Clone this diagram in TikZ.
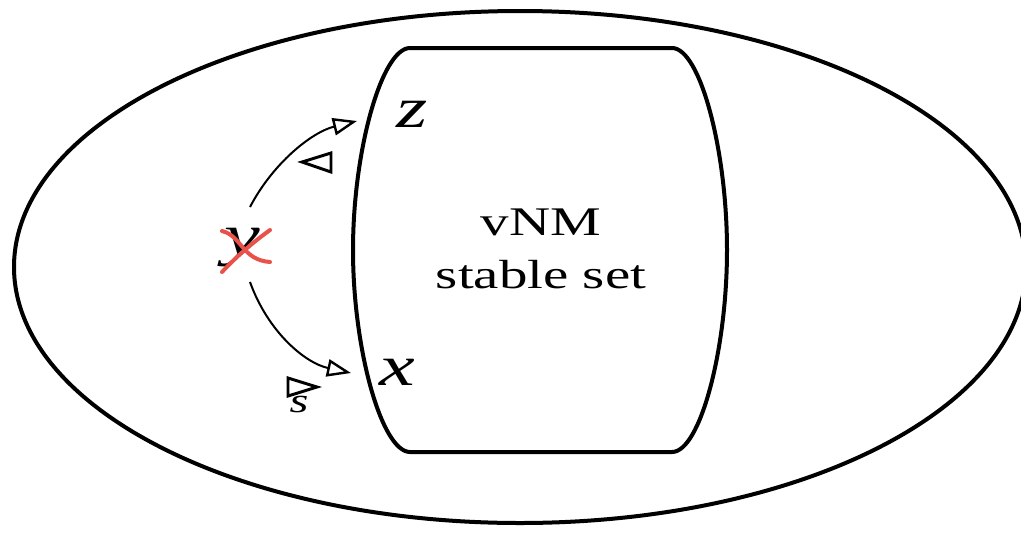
\documentclass[tikz,border=0pt]{standalone}
\usepackage{fontspec}
\setmainfont{Liberation Serif}
\usetikzlibrary{arrows.meta}
\definecolor{crossred}{HTML}{E8524A}
\newcommand{\wide}[1]{\scalebox{1.4}[1]{#1}}
\begin{document}
\begin{tikzpicture}[x=0.75pt,y=-0.75pt,
  shape line/.style={line width=3pt},
  rel/.style={line width=1.5pt,-{Triangle[open,length=18pt,width=13pt,line width=1.8pt]}},
  relsym/.style={line width=2.2pt,line join=miter},
  lab/.style={font=\fontsize{43}{43}\selectfont\itshape,anchor=base,inner sep=0pt},
  body/.style={font=\fontsize{30.5}{34}\selectfont,anchor=base,inner sep=0pt},
  cross/.style={draw=crossred,line width=3pt,line cap=round}]
\useasboundingbox (0,0) rectangle (1021,533);
% outer ellipse
\draw[shape line] (520,267) ellipse [x radius=506, y radius=256];
% stable set (barrel shape)
\draw[shape line] (410,48) -- (672,48)
  .. controls (700,48) and (727,150) .. (727,250)
  .. controls (727,350) and (700,452) .. (672,452)
  -- (410,452)
  .. controls (382,452) and (353,350) .. (353,250)
  .. controls (353,150) and (382,48) .. (410,48);
\node[body] (vnm) at (541,235) {\wide{vNM}};
\node[body] (sset) at (541,288) {\wide{stable set}};
% labels
\node[lab] (z) at (412,127) {\wide{z}};
\node[lab] (x) at (397,385) {\wide{x}};
\node[lab] (y) at (242,254) {\wide{y}};
\coordinate (ztip) at (357,121);
\coordinate (xtip) at (351,373);
\coordinate (ytop) at (250,207);
\coordinate (ybot) at (250,282);
% connectors
\draw[rel] (ytop) .. controls (273,163) and (312,132) .. (ztip);
\draw[rel] (ybot) .. controls (268,332) and (305,363) .. (xtip);
% relation symbols
\draw[relsym] (302,162) -- (331,153) -- (331,172) -- cycle;
\draw[relsym] (317,387) -- (288,378) -- (288,396) -- cycle;
\node[font=\fontsize{26}{26}\selectfont\itshape,anchor=base,inner sep=0pt] (s) at (299,412) {\wide{s}};
% red cross over y
\draw[cross] (222,272) .. controls (235,258) and (252,243) .. (270,230);
\draw[cross] (222,231) .. controls (242,236) and (242,260) .. (270,262);
\end{tikzpicture}
\end{document}
